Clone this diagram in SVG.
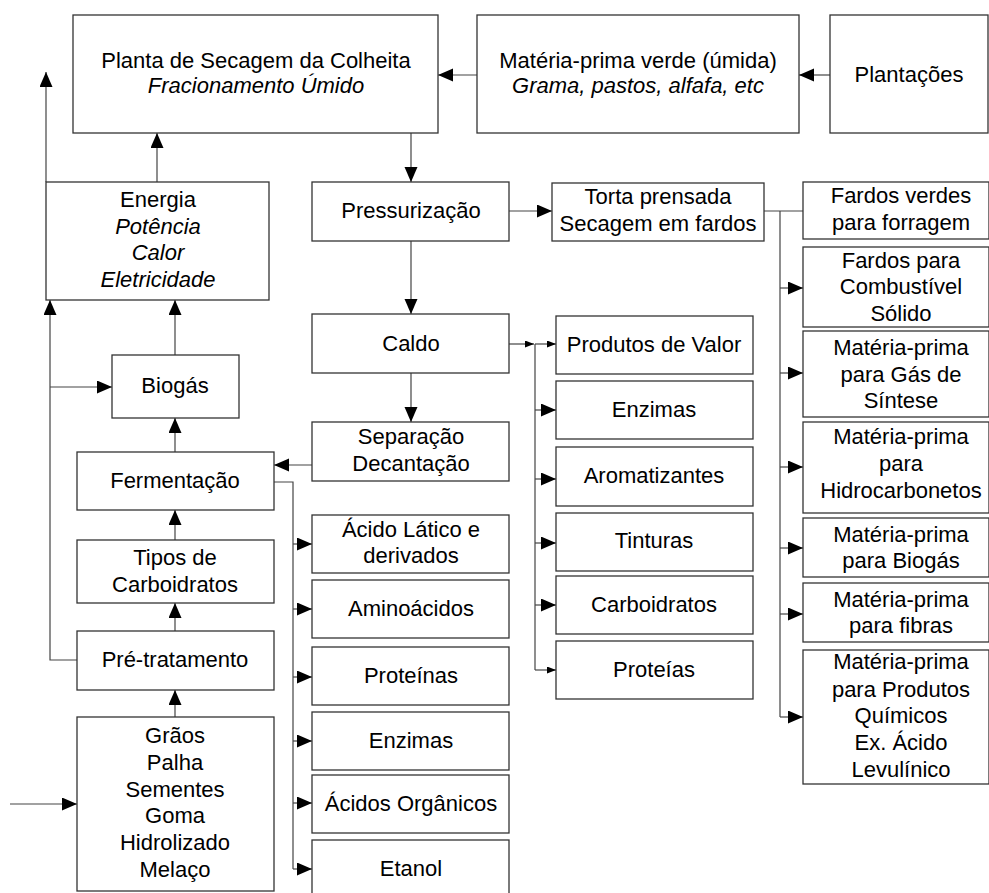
<svg xmlns="http://www.w3.org/2000/svg" width="989" height="893" viewBox="0 0 989 893">
  <style>
    .box { fill: #ffffff; stroke: #333333; stroke-width: 1.3; }
    .lbl { font-family: "Liberation Sans", Arial, sans-serif; font-size: 22px; fill: #000000; text-anchor: middle; }
    .it { font-style: italic; }
    .wire { fill: none; stroke: #444444; stroke-width: 1.2; }
    .arr { marker-end: url(#head); }
    .arrs { marker-end: url(#headSmall); }
  </style>
  <defs>
    <marker id="head" markerUnits="userSpaceOnUse" markerWidth="16" markerHeight="14" refX="15" refY="6.5" orient="auto">
      <path d="M0,0 L15,6.5 L0,13 z" fill="#000000"/>
    </marker>
    <marker id="headSmall" markerUnits="userSpaceOnUse" markerWidth="10" markerHeight="8" refX="9" refY="3.5" orient="auto">
      <path d="M0,0 L9,3.5 L0,7 z" fill="#000000"/>
    </marker>
  </defs>
  <rect width="989" height="893" fill="#ffffff"/>

  <!-- connectors -->
  <g id="connectors">
    <!-- top row -->
    <path class="wire arr" d="M830,75 H799"/>
    <path class="wire arr" d="M477,75 H438"/>
    <path class="wire arr" d="M411,133 V182"/>
    <path class="wire arr" d="M157,182 V133"/>
    <path class="wire arr" d="M46,182 V72"/>
    <!-- pressing line -->
    <path class="wire arr" d="M509,211 H552"/>
    <path class="wire arr" d="M411,241 V314"/>
    <path class="wire arr" d="M411,373 V422"/>
    <path class="wire arr" d="M312,465 H274"/>
    <!-- press cake outputs -->
    <path class="wire" d="M764,211 H803"/>
    <path class="wire" d="M780,211 V717"/>
    <path class="wire arr" d="M780,288 H803"/>
    <path class="wire arr" d="M780,373 H803"/>
    <path class="wire arr" d="M780,467 H803"/>
    <path class="wire arr" d="M780,548 H803"/>
    <path class="wire arr" d="M780,614 H803"/>
    <path class="wire arr" d="M780,717 H803"/>
    <!-- juice outputs -->
    <path class="wire arrs" d="M509,344 H534"/>
    <path class="wire" d="M535,344 V670"/>
    <path class="wire arrs" d="M535,344 H556"/>
    <path class="wire arr" d="M535,410 H556"/>
    <path class="wire arr" d="M535,479 H556"/>
    <path class="wire arr" d="M535,543 H556"/>
    <path class="wire arr" d="M535,605 H556"/>
    <path class="wire arrs" d="M535,670 H556"/>
    <!-- fermentation outputs -->
    <path class="wire" d="M274,482 H293 V869"/>
    <path class="wire arr" d="M293,544 H312"/>
    <path class="wire arr" d="M293,609 H312"/>
    <path class="wire arr" d="M293,677 H312"/>
    <path class="wire arr" d="M293,741 H312"/>
    <path class="wire arr" d="M293,803 H312"/>
    <path class="wire arr" d="M293,869 H312"/>
    <!-- left column -->
    <path class="wire arr" d="M175,355 V300"/>
    <path class="wire arr" d="M175,452 V418"/>
    <path class="wire arr" d="M175,540 V510"/>
    <path class="wire arr" d="M175,631 V603"/>
    <path class="wire arr" d="M175,717 V690"/>
    <path class="wire arr" d="M77,660 H50 V300"/>
    <path class="wire arr" d="M50,387 H112"/>
    <path class="wire arr" d="M10,804 H77"/>
  </g>

  <!-- nodes -->
  <g id="planta">
    <rect class="box" x="73" y="15" width="365" height="118"/>
    <text class="lbl" x="256" y="68">Planta de Secagem da Colheita</text>
    <text class="lbl it" x="256" y="93">Fracionamento Úmido</text>
  </g>
  <g id="materia-verde">
    <rect class="box" x="477" y="15" width="322" height="118"/>
    <text class="lbl" x="638" y="68">Matéria-prima verde (úmida)</text>
    <text class="lbl it" x="638" y="93">Grama, pastos, alfafa, etc</text>
  </g>
  <g id="plantacoes">
    <rect class="box" x="830" y="15" width="158" height="118"/>
    <text class="lbl" x="909" y="82">Plantações</text>
  </g>
  <g id="energia">
    <rect class="box" x="46" y="182" width="223" height="118"/>
    <text class="lbl" x="158" y="207">Energia</text>
    <text class="lbl it" x="158" y="233.5">Potência</text>
    <text class="lbl it" x="158" y="260">Calor</text>
    <text class="lbl it" x="158" y="286.5">Eletricidade</text>
  </g>
  <g id="pressurizacao">
    <rect class="box" x="312" y="182" width="197" height="59"/>
    <text class="lbl" x="411" y="218">Pressurização</text>
  </g>
  <g id="torta">
    <rect class="box" x="552" y="183" width="212" height="58"/>
    <text class="lbl" x="658" y="204">Torta prensada</text>
    <text class="lbl" x="658" y="231">Secagem em fardos</text>
  </g>
  <g id="fardos-verdes">
    <rect class="box" x="803" y="182" width="186" height="57"/>
    <text class="lbl" x="901" y="203">Fardos verdes</text>
    <text class="lbl" x="901" y="230">para forragem</text>
  </g>
  <g id="fardos-combustivel">
    <rect class="box" x="803" y="247" width="186" height="80"/>
    <text class="lbl" x="901" y="268">Fardos para</text>
    <text class="lbl" x="901" y="294">Combustível</text>
    <text class="lbl" x="901" y="321">Sólido</text>
  </g>
  <g id="mp-gas-sintese">
    <rect class="box" x="803" y="331" width="186" height="86"/>
    <text class="lbl" x="901" y="355">Matéria-prima</text>
    <text class="lbl" x="901" y="382">para Gás de</text>
    <text class="lbl" x="901" y="408">Síntese</text>
  </g>
  <g id="mp-hidrocarbonetos">
    <rect class="box" x="803" y="422" width="186" height="91"/>
    <text class="lbl" x="901" y="444">Matéria-prima</text>
    <text class="lbl" x="901" y="471">para</text>
    <text class="lbl" x="901" y="498">Hidrocarbonetos</text>
  </g>
  <g id="mp-biogas">
    <rect class="box" x="803" y="518" width="186" height="59"/>
    <text class="lbl" x="901" y="542">Matéria-prima</text>
    <text class="lbl" x="901" y="568">para Biogás</text>
  </g>
  <g id="mp-fibras">
    <rect class="box" x="803" y="583" width="186" height="59"/>
    <text class="lbl" x="901" y="607">Matéria-prima</text>
    <text class="lbl" x="901" y="633">para fibras</text>
  </g>
  <g id="mp-quimicos">
    <rect class="box" x="803" y="650" width="186" height="134"/>
    <text class="lbl" x="901" y="669">Matéria-prima</text>
    <text class="lbl" x="901" y="697">para Produtos</text>
    <text class="lbl" x="901" y="723">Químicos</text>
    <text class="lbl" x="901" y="750">Ex. Ácido</text>
    <text class="lbl" x="901" y="777">Levulínico</text>
  </g>
  <g id="caldo">
    <rect class="box" x="312" y="314" width="197" height="59"/>
    <text class="lbl" x="411" y="351">Caldo</text>
  </g>
  <g id="separacao">
    <rect class="box" x="312" y="422" width="197" height="59"/>
    <text class="lbl" x="411" y="444">Separação</text>
    <text class="lbl" x="411" y="471">Decantação</text>
  </g>
  <g id="produtos-valor">
    <rect class="box" x="556" y="316" width="197" height="58"/>
    <text class="lbl" x="654" y="352">Produtos de Valor</text>
  </g>
  <g id="enzimas-caldo">
    <rect class="box" x="556" y="381" width="197" height="58"/>
    <text class="lbl" x="654" y="417">Enzimas</text>
  </g>
  <g id="aromatizantes">
    <rect class="box" x="556" y="447" width="197" height="59"/>
    <text class="lbl" x="654" y="483">Aromatizantes</text>
  </g>
  <g id="tinturas">
    <rect class="box" x="556" y="513" width="197" height="58"/>
    <text class="lbl" x="654" y="548">Tinturas</text>
  </g>
  <g id="carboidratos">
    <rect class="box" x="556" y="576" width="197" height="58"/>
    <text class="lbl" x="654" y="612">Carboidratos</text>
  </g>
  <g id="proteias">
    <rect class="box" x="556" y="641" width="197" height="58"/>
    <text class="lbl" x="654" y="677">Proteías</text>
  </g>
  <g id="acido-latico">
    <rect class="box" x="312" y="515" width="197" height="58"/>
    <text class="lbl" x="411" y="537">Ácido Lático e</text>
    <text class="lbl" x="411" y="563">derivados</text>
  </g>
  <g id="aminoacidos">
    <rect class="box" x="312" y="580" width="197" height="58"/>
    <text class="lbl" x="411" y="616">Aminoácidos</text>
  </g>
  <g id="proteinas">
    <rect class="box" x="312" y="647" width="197" height="58"/>
    <text class="lbl" x="411" y="683">Proteínas</text>
  </g>
  <g id="enzimas-ferm">
    <rect class="box" x="312" y="712" width="197" height="58"/>
    <text class="lbl" x="411" y="748">Enzimas</text>
  </g>
  <g id="acidos-organicos">
    <rect class="box" x="312" y="775" width="197" height="58"/>
    <text class="lbl" x="411" y="811">Ácidos Orgânicos</text>
  </g>
  <g id="etanol">
    <rect class="box" x="312" y="840" width="197" height="58"/>
    <text class="lbl" x="411" y="876">Etanol</text>
  </g>
  <g id="biogas">
    <rect class="box" x="112" y="355" width="127" height="63"/>
    <text class="lbl" x="175" y="393">Biogás</text>
  </g>
  <g id="fermentacao">
    <rect class="box" x="77" y="452" width="197" height="58"/>
    <text class="lbl" x="175" y="488">Fermentação</text>
  </g>
  <g id="tipos-carboidratos">
    <rect class="box" x="77" y="540" width="197" height="63"/>
    <text class="lbl" x="175" y="565">Tipos de</text>
    <text class="lbl" x="175" y="592">Carboidratos</text>
  </g>
  <g id="pre-tratamento">
    <rect class="box" x="77" y="631" width="197" height="59"/>
    <text class="lbl" x="175" y="667">Pré-tratamento</text>
  </g>
  <g id="materias-primas">
    <rect class="box" x="77" y="717" width="197" height="174"/>
    <text class="lbl" x="175" y="743">Grãos</text>
    <text class="lbl" x="175" y="770">Palha</text>
    <text class="lbl" x="175" y="797">Sementes</text>
    <text class="lbl" x="175" y="823">Goma</text>
    <text class="lbl" x="175" y="850">Hidrolizado</text>
    <text class="lbl" x="175" y="877">Melaço</text>
  </g>
</svg>
